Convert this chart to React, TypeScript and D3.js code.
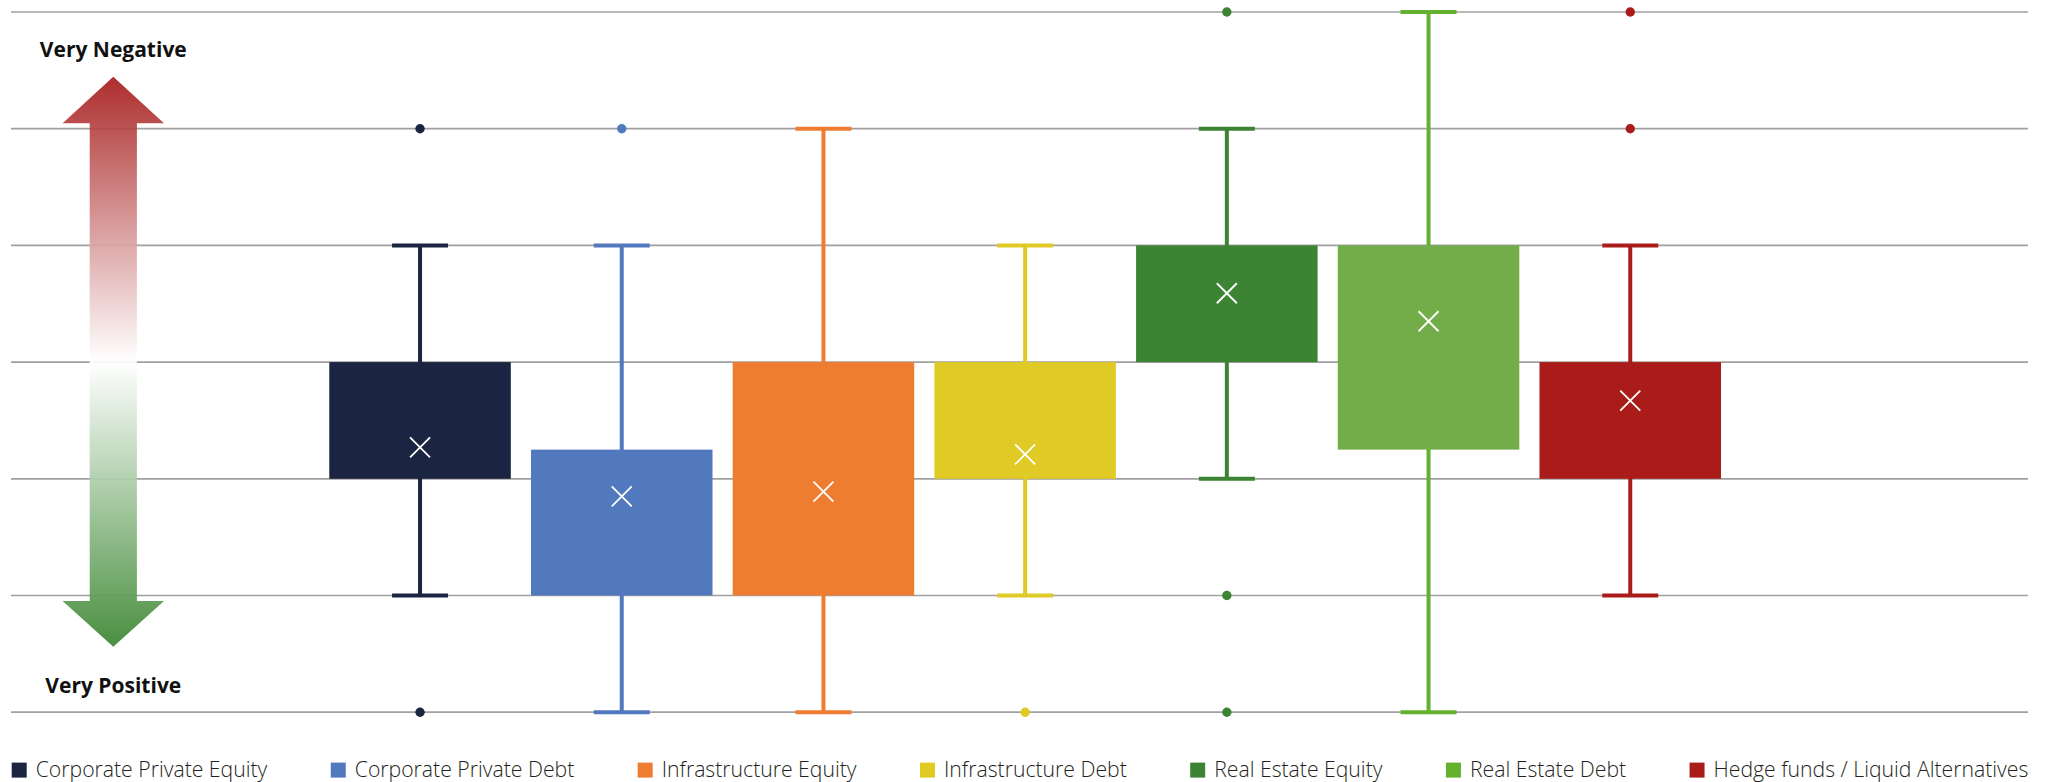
import React, { useEffect, useRef } from "react";
import * as d3 from "d3";

// ---------- data ----------
const categories = [
  "Corporate Private Equity",
  "Corporate Private Debt",
  "Infrastructure Equity",
  "Infrastructure Debt",
  "Real Estate Equity",
  "Real Estate Debt",
  "Hedge funds / Liquid Alternatives",
];
const whiskerLow = [2, 1, 1, 2, 3, 1, 2];
const boxLow = [3, 2, 2, 3, 4, 3.25, 3];
const boxHigh = [4, 3.25, 4, 4, 5, 5, 4];
const whiskerHigh = [5, 5, 6, 5, 6, 7, 5];
const means = [3.27, 2.85, 2.89, 3.21, 4.59, 4.35, 3.67];
const outliers: number[][] = [[1, 6], [6], [], [1], [1, 2, 7], [], [6, 7]];
const gridValues = [1, 2, 3, 4, 5, 6, 7];
const boxColors = ["#1B2440", "#5279BD", "#EE7D31", "#E0CA26", "#3C8434", "#72AD4A", "#AA1C19"];
const lineColors = ["#1B2440", "#5279BD", "#EE7D31", "#E0CA26", "#3C8434", "#62B22F", "#AA1C19"];
const topLabel = "Very Negative";
const bottomLabel = "Very Positive";

// ---------- layout ----------
const W = 2051;
const H = 782;
const plotLeft = 11;
const plotRight = 2028;
const yTop = 12;
const yBottom = 712.2;

export default function App() {
  const ref = useRef<SVGSVGElement | null>(null);

  useEffect(() => {
    const svg = d3.select(ref.current);
    svg.selectAll("*").remove();

    const x = d3.scalePoint<string>().domain(categories).range([plotLeft, plotRight]).padding(2).align(0.507);
    const y = d3.scaleLinear().domain([1, 7]).range([yBottom, yTop]);
    const step = x.step();
    const boxW = step * 0.9;
    const capW = 56;

    const defs = svg.append("defs");
    const grad = defs
      .append("linearGradient")
      .attr("id", "arrowGrad")
      .attr("gradientUnits", "userSpaceOnUse")
      .attr("x1", 0)
      .attr("x2", 0)
      .attr("y1", 76.7)
      .attr("y2", 646.7);
    [
      [0, "#A61B1B"],
      [0.5, "#FFFFFF"],
      [1, "#3A8630"],
    ].forEach(([o, c]) => grad.append("stop").attr("offset", o as number).attr("stop-color", c as string));

    // gridlines
    svg
      .append("g")
      .selectAll("line")
      .data(gridValues)
      .join("line")
      .attr("x1", plotLeft)
      .attr("x2", plotRight)
      .attr("y1", (d) => y(d))
      .attr("y2", (d) => y(d))
      .attr("stroke", "#A0A0A0")
      .attr("stroke-width", 1.7);

    // arrow
    const cx = 113.3;
    const headHalf = 50.7;
    const shaftHalf = 23.6;
    const tipTop = 76.7;
    const baseTop = 123.3;
    const baseBot = 601;
    const tipBot = 646.7;
    const arrowPts: [number, number][] = [
      [cx, tipTop],
      [cx + headHalf, baseTop],
      [cx + shaftHalf, baseTop],
      [cx + shaftHalf, baseBot],
      [cx + headHalf, baseBot],
      [cx, tipBot],
      [cx - headHalf, baseBot],
      [cx - shaftHalf, baseBot],
      [cx - shaftHalf, baseTop],
      [cx - headHalf, baseTop],
    ];
    svg
      .append("path")
      .attr("d", d3.line()(arrowPts) + "Z")
      .attr("fill", "url(#arrowGrad)")
      .attr("opacity", 0.92);

    svg
      .append("text")
      .attr("x", cx)
      .attr("y", 56.7)
      .attr("text-anchor", "middle")
      .attr("font-family", "'Open Sans', sans-serif")
      .attr("font-weight", 700)
      .attr("font-size", 21)
      .attr("fill", "#111")
      .text(topLabel);
    svg
      .append("text")
      .attr("x", cx)
      .attr("y", 693.3)
      .attr("text-anchor", "middle")
      .attr("font-family", "'Open Sans', sans-serif")
      .attr("font-weight", 700)
      .attr("font-size", 21)
      .attr("fill", "#111")
      .text(bottomLabel);

    const groups = svg
      .append("g")
      .selectAll("g")
      .data(categories)
      .join("g")
      .attr("transform", (d) => `translate(${x(d)},0)`);

    // whiskers
    groups
      .append("line")
      .attr("x1", 0)
      .attr("x2", 0)
      .attr("y1", (_, i) => y(whiskerLow[i]))
      .attr("y2", (_, i) => y(whiskerHigh[i]))
      .attr("stroke", (_, i) => lineColors[i])
      .attr("stroke-width", 4);
    // caps
    groups
      .selectAll("line.cap")
      .data((_, i) => [
        { v: whiskerLow[i], i },
        { v: whiskerHigh[i], i },
      ])
      .join("line")
      .attr("class", "cap")
      .attr("x1", -capW / 2)
      .attr("x2", capW / 2)
      .attr("y1", (d) => y(d.v))
      .attr("y2", (d) => y(d.v))
      .attr("stroke", (d) => lineColors[d.i])
      .attr("stroke-width", 4);
    // boxes
    groups
      .append("rect")
      .attr("x", -boxW / 2)
      .attr("width", boxW)
      .attr("y", (_, i) => y(boxHigh[i]))
      .attr("height", (_, i) => y(boxLow[i]) - y(boxHigh[i]))
      .attr("fill", (_, i) => boxColors[i]);
    // outliers
    groups
      .selectAll("circle")
      .data((_, i) => outliers[i].map((v) => ({ v, i })))
      .join("circle")
      .attr("cx", 0)
      .attr("cy", (d) => y(d.v))
      .attr("r", 4.7)
      .attr("fill", (d) => lineColors[d.i]);
    // mean markers
    const s = 10;
    groups
      .append("path")
      .attr("d", (_, i) => {
        const my = y(means[i]);
        return `M${-s},${my - s}L${s},${my + s}M${s},${my - s}L${-s},${my + s}`;
      })
      .attr("stroke", "#FFFFFF")
      .attr("stroke-width", 1.8)
      .attr("fill", "none");

    // legend
    const legend = svg.append("g");
    const items = legend
      .selectAll("g")
      .data(categories)
      .join("g");
    items
      .append("rect")
      .attr("y", 762.6)
      .attr("width", 15)
      .attr("height", 15)
      .attr("fill", (_, i) => lineColors[i]);
    const texts = items
      .append("text")
      .attr("x", 24)
      .attr("y", 777.3)
      .attr("font-family", "'Open Sans', sans-serif")
      .attr("font-weight", 300)
      .attr("font-size", 21.2)
      .attr("fill", "#231F20")
      .text((d) => d);
    const widths: number[] = [];
    texts.each(function () {
      widths.push((this as SVGTextElement).getComputedTextLength());
    });
    const legendStart = 11.7;
    const legendEnd = 2028.3;
    const used = d3.sum(widths) + categories.length * 24;
    const gap = (legendEnd - legendStart - used) / (categories.length - 1);
    let cursor = legendStart;
    items.each(function (_, i) {
      d3.select(this).attr("transform", `translate(${cursor},0)`);
      cursor += 24 + widths[i] + gap;
    });
  }, []);

  return (
    <svg
      ref={ref}
      width={W}
      height={H}
      style={{ position: "absolute", left: 0, top: 0, display: "block", background: "#fff" }}
    />
  );
}
